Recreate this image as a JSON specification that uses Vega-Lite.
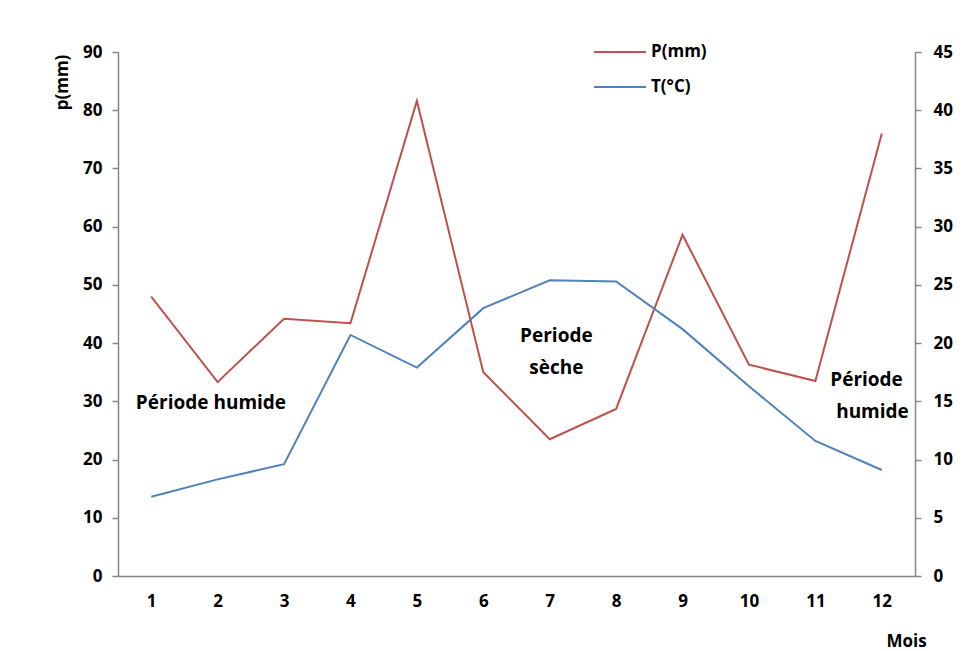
{
  "$schema": "https://vega.github.io/schema/vega-lite/v6.json",
  "autosize": "none",
  "width": 797,
  "height": 524,
  "padding": {"left": 118, "top": 52, "right": 52, "bottom": 75},
  "background": "white",
  "config": {
    "view": {"stroke": null},
    "font": "Open Sans",
    "axis": {"grid": false, "domainColor": "#868686", "domainWidth": 1.5, "tickColor": "#868686", "tickWidth": 1.5, "labelFont": "Open Sans", "labelFontWeight": "bold", "labelFontSize": 17, "labelColor": "#000000", "titleFont": "Open Sans", "titleFontWeight": "bold", "titleFontSize": 17, "titleColor": "#000000"}
  },
  "data": {"values": [
    {"mois": 1, "P": 48.0, "T": 6.8},
    {"mois": 2, "P": 33.3, "T": 8.3},
    {"mois": 3, "P": 44.2, "T": 9.6},
    {"mois": 4, "P": 43.4, "T": 20.7},
    {"mois": 5, "P": 81.6, "T": 17.9},
    {"mois": 6, "P": 35.0, "T": 23.0},
    {"mois": 7, "P": 23.5, "T": 25.4},
    {"mois": 8, "P": 28.7, "T": 25.3},
    {"mois": 9, "P": 58.6, "T": 21.2},
    {"mois": 10, "P": 36.3, "T": 16.3},
    {"mois": 11, "P": 33.5, "T": 11.6},
    {"mois": 12, "P": 76.0, "T": 9.1}
  ]},
  "encoding": {
    "x": {"field": "mois", "type": "quantitative", "scale": {"domain": [0.5, 12.5], "nice": false, "zero": false},
      "axis": {"values": [1,2,3,4,5,6,7,8,9,10,11,12], "ticks": false, "labelPadding": 17, "title": "Mois", "titleX": 788, "titleY": 70, "titleAlign": "center", "titleBaseline": "alphabetic"}}
  },
  "layer": [
    {
      "layer": [
        {
          "mark": {"type": "line", "strokeWidth": 2},
          "encoding": {
            "y": {"field": "P", "type": "quantitative", "scale": {"domain": [0, 90], "nice": false},
              "axis": {"values": [0,10,20,30,40,50,60,70,80,90], "tickSize": 6, "labelPadding": 10, "title": "p(mm)", "titleAngle": -90, "titleX": -56, "titleY": 30, "titleAlign": "center", "titleBaseline": "middle"}},
            "color": {"datum": "P(mm)", "type": "nominal", "scale": {"domain": ["P(mm)", "T(°C)"], "range": ["#C0504D", "#4F81BD"]},
              "legend": {"orient": "none", "legendX": 475, "legendY": -27, "title": null, "symbolType": "stroke", "symbolSize": 2700, "symbolStrokeWidth": 2, "labelFont": "Open Sans", "labelFontWeight": "bold", "labelFontSize": 17, "labelColor": "#000000", "rowPadding": -4, "labelOffset": 4}}
          }
        },
        {
          "data": {"values": [
            {"mois": 1.9, "P": 29.7, "txt": "Période humide"},
            {"mois": 7.1, "P": 41.2, "txt": "Periode"},
            {"mois": 7.1, "P": 35.7, "txt": "sèche"},
            {"mois": 11.77, "P": 33.7, "txt": "Période"},
            {"mois": 11.86, "P": 28.2, "txt": "humide"}
          ]},
          "mark": {"type": "text", "font": "Open Sans", "fontWeight": "bold", "fontSize": 19, "color": "#000000", "align": "center", "baseline": "middle"},
          "encoding": {
            "y": {"field": "P", "type": "quantitative"},
            "text": {"field": "txt"}
          }
        }
      ]
    },
    {
      "mark": {"type": "line", "strokeWidth": 2},
      "encoding": {
        "y": {"field": "T", "type": "quantitative", "scale": {"domain": [0, 45], "nice": false},
          "axis": {"orient": "right", "values": [0,5,10,15,20,25,30,35,40,45], "tickSize": 6, "labelPadding": 12, "title": null}},
        "color": {"datum": "T(°C)", "type": "nominal"}
      }
    }
  ],
  "resolve": {"scale": {"y": "independent"}}
}
